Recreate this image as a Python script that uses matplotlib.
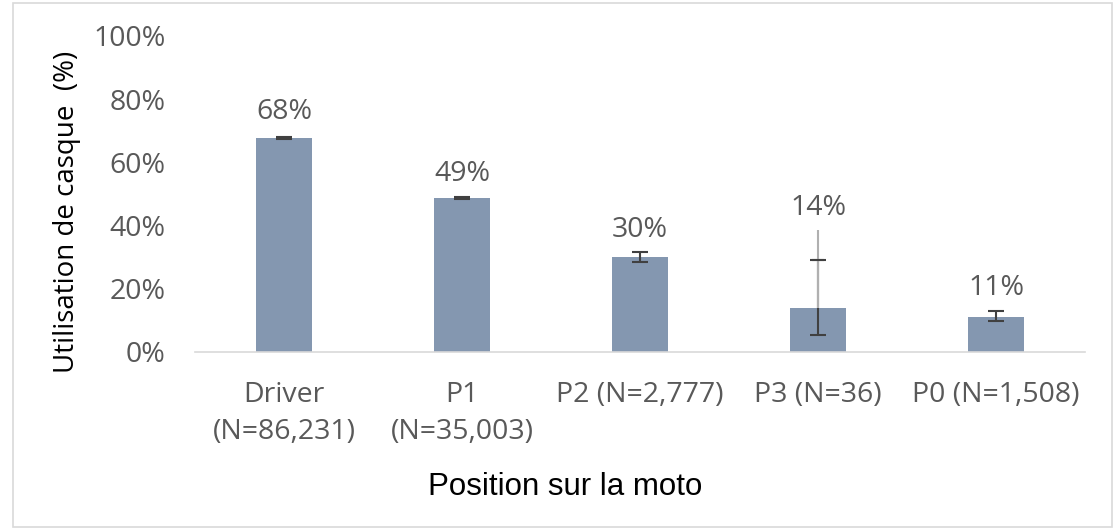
import matplotlib
matplotlib.use("Agg")
import matplotlib.pyplot as plt
from matplotlib.patches import Rectangle
from matplotlib.ticker import PercentFormatter

categories = ["Driver\n(N=86,231)", "P1\n(N=35,003)", "P2 (N=2,777)", "P3 (N=36)", "P0 (N=1,508)"]
usage = [67.8, 48.7, 30.0, 13.9, 11.2]
err_low = [0.3, 0.4, 1.4, 8.5, 1.3]
err_high = [0.3, 0.5, 1.6, 15.1, 1.9]
# thin grey whisker above P3 (second error series in the original)
p3_extra_top = 38.6

bar_color = "#8497b0"
text_grey = "#595959"

plt.rcParams["font.family"] = ["Open Sans", "DejaVu Sans"]

fig = plt.figure(figsize=(11.15, 5.28), dpi=100)
ax = fig.add_axes([195 / 1115, 1 - 352 / 528, 890 / 1115, 316 / 528])

x = range(len(categories))
ax.bar(x, usage, width=0.315, color=bar_color, zorder=2)
ax.errorbar(x, usage, yerr=[err_low, err_high], fmt="none", ecolor="#404040",
            elinewidth=1.5, capsize=6, capthick=1.5, zorder=3)
# part of the P3 whisker above the bar is drawn light grey
ax.vlines(3, usage[3], p3_extra_top, color="#b0b0b0", lw=1.5, zorder=4)
ax.hlines(usage[3] + err_high[3], 3 - 0.035, 3 + 0.035, color="#404040", lw=1.5, zorder=5)

for i, v in enumerate(usage):
    top = v + err_high[i]
    if i == 3:
        top = p3_extra_top
    off = 8 if i == 0 else 6
    ax.annotate(f"{round(v)}%", (i, top), xytext=(0, off), textcoords="offset points",
                ha="center", va="bottom", fontsize=20.5, color=text_grey)

ax.set_xlim(-0.5, len(categories) - 0.5)
ax.set_ylim(0, 100)
ax.set_yticks(range(0, 101, 20))
ax.yaxis.set_major_formatter(PercentFormatter(decimals=0))
ax.set_xticks(list(x))
ax.set_xticklabels(categories, linespacing=1.42)
ax.tick_params(axis="both", length=0, labelsize=20.5, labelcolor=text_grey)
ax.tick_params(axis="y", pad=21)
ax.tick_params(axis="x", pad=21)
for side in ["top", "right", "left"]:
    ax.spines[side].set_visible(False)
ax.spines["bottom"].set_color("#d9d9d9")
ax.spines["bottom"].set_linewidth(1.2)

fig.text(67 / 1115, 1 - 212 / 528, "Utilisation de casque  (%)", rotation=90,
         ha="center", va="center", fontsize=20, color="black")
fig.text(565 / 1115, 1 - 487 / 528, "Position sur la moto", ha="center", va="center",
         fontsize=22.5, family=["Liberation Sans", "DejaVu Sans"], color="black")

fig.patches.append(Rectangle((13 / 1115, 0.002), 1099 / 1115, 1 - 3 / 528 - 0.002,
                             transform=fig.transFigure, fill=False, edgecolor="#d9d9d9", lw=1.2))

fig.savefig("out.png", dpi=100)
